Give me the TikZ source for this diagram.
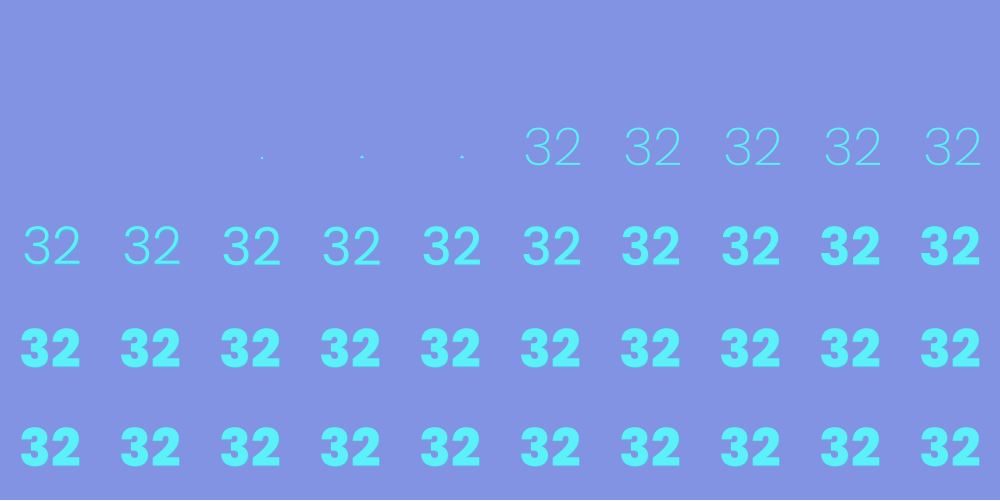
\documentclass[tikz,border=0pt]{standalone}
\usepackage{fontspec}
\newfontfamily\wA{Poppins ExtraLight}
\newfontfamily\wC{Poppins Light}
\newfontfamily\wD{Poppins}
\newfontfamily\wE{Poppins Medium}
\newfontfamily\wF{Poppins SemiBold}
\newfontfamily\wG{Poppins Bold}
\newfontfamily\wH{Poppins ExtraBold}
\definecolor{bg}{HTML}{8293E4}
\definecolor{digit}{HTML}{5CF0F8}
\definecolor{glow}{HTML}{4FB6E6}
\tikzset{
  num/.style={inner sep=0pt, text=digit, font=\fontsize{26}{26}\selectfont},
  shade/.style={inner sep=0pt, text=glow, opacity=0.6, font=\fontsize{26}{26}\selectfont},
  frag/.style={fill=digit, draw=none}
}
\newcommand{\cell}[4]{% x, y, fontcmd, name
  \node[shade] at (#1-4,#2+1.5) {#3 32};
  \node[num] (#4) at (#1-5,#2) {#3 32};
}
\begin{document}
\begin{tikzpicture}[x=0.5pt,y=-0.5pt]
\fill[bg] (0,0) rectangle (1000,500);
\useasboundingbox (0,0) rectangle (1000,500);
% row 2 fragments
\fill[frag] (261,157) rectangle (263,159);
\fill[frag] (360,158) -- (362,155) -- (364,158) -- cycle;
\fill[frag] (460,158) -- (462,155) -- (464,158) -- cycle;
% row 2 thin digits
\foreach \i in {5,...,9}{
  \node[num] (r2c\i) at (53+100*\i,147) {\wA 32};
}
% row 3 progressive weights
\cell{50}{246}{\wC}{r3c0}
\cell{150}{246}{\wC}{r3c1}
\cell{250}{246}{\wD}{r3c2}
\cell{350}{246}{\wD}{r3c3}
\cell{450}{246}{\wE}{r3c4}
\cell{550}{246}{\wE}{r3c5}
\cell{650}{246}{\wF}{r3c6}
\cell{750}{246}{\wF}{r3c7}
\cell{850}{246}{\wG}{r3c8}
\cell{950}{246}{\wG}{r3c9}
% rows 4 and 5 bold
\foreach \i in {0,...,9}{
  \cell{50+100*\i}{348}{\wH}{r4c\i}
  \cell{50+100*\i}{447}{\wH}{r5c\i}
}
\end{tikzpicture}
\end{document}
